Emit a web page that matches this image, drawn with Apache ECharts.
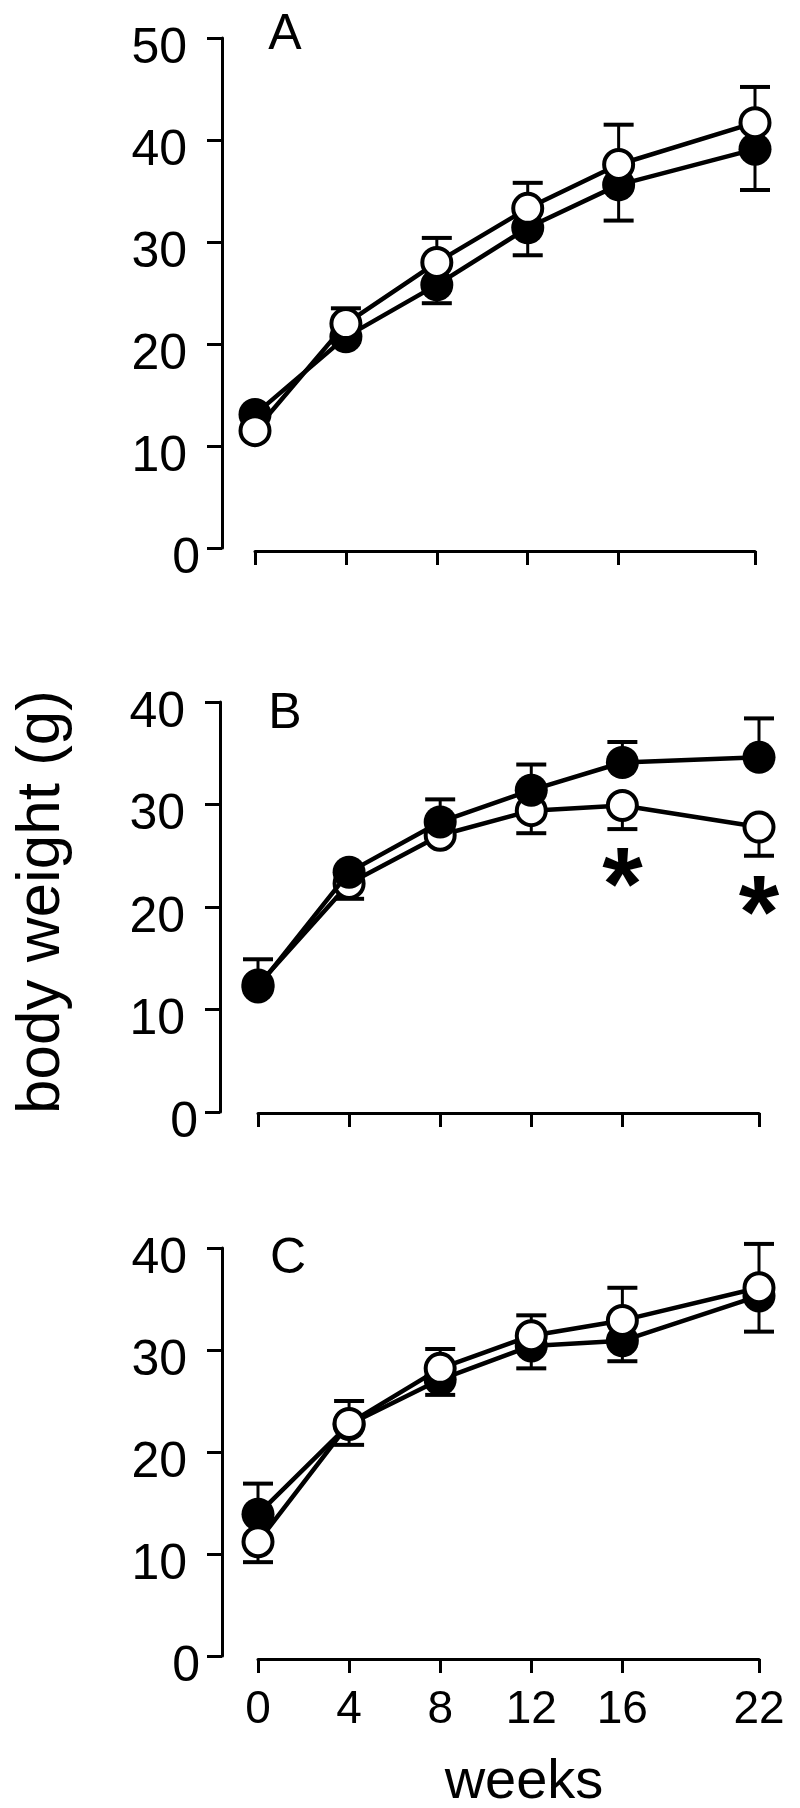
<!DOCTYPE html>
<html><head><meta charset="utf-8">
<script src="https://cdn.jsdelivr.net/npm/echarts@6/dist/echarts.min.js"></script>
<style>html,body{margin:0;padding:0;background:#fff}#c{width:800px;height:1808px}</style>
</head><body><div id="c"></div>
<script>
// ---------- data ----------
const weeks = [0, 4, 8, 12, 16, 22];
const weekTickLabels = ['0', '4', '8', '12', '16', '22'];
const panelLetters = ['A', 'B', 'C'];
const yMaxA = 50, yMaxB = 40, yMaxC = 40;
const yAxisTitle = 'body weight (g)';
const xAxisTitle = 'weeks';

// panel A
const filledA    = [13.1, 20.7, 25.8, 31.4, 35.6, 39.1];
const openA      = [11.5, 22.0, 28.0, 33.3, 37.6, 41.7];
const filledErrA = [0, 0, -1.8, -2.7, -3.5, -4.0];   // sign = direction of the bar
const openErrA   = [0, 1.5, 2.4, 2.5, 3.9, 3.5];

// panel B
const filledB    = [12.2, 23.4, 28.3, 31.4, 34.1, 34.6];
const openB      = [12.4, 22.3, 27.0, 29.4, 29.9, 27.8];
const filledErrB = [2.7, 0, 2.2, 2.5, 2.0, 3.8];
const openErrB   = [0, -1.5, 0, -2.2, -2.3, -2.8];
const asteriskWeeksB = [16, 22];
const asteriskYB     = [23.7, 20.9];

// panel C
const filledC    = [13.9, 22.7, 27.1, 30.4, 30.9, 35.3];
const openC      = [11.2, 22.8, 28.2, 31.4, 32.9, 36.1];
const filledErrC = [3.0, -2.0, -1.5, -2.2, -2.0, -3.5];
const openErrC   = [-2.0, 2.2, 1.9, 2.0, 3.2, 4.3];

// ---------- layout ----------
const FONT = '"Liberation Sans", Arial, Helvetica, sans-serif';
const grids = [
  { left: 255, right: 45, top: 38,   height: 510, yOff: 33, xOff: 3 },
  { left: 258, right: 41, top: 702,  height: 410, yOff: 38, xOff: 1 },
  { left: 258, right: 41, top: 1248, height: 408, yOff: 36, xOff: 3 }
];
const panels = [
  { yMax: yMaxA, filled: filledA, open: openA, fErr: filledErrA, oErr: openErrA, openOnTop: true },
  { yMax: yMaxB, filled: filledB, open: openB, fErr: filledErrB, oErr: openErrB, openOnTop: false },
  { yMax: yMaxC, filled: filledC, open: openC, fErr: filledErrC, oErr: openErrC, openOnTop: true }
];

function errRender(params, api) {
  const x = api.value(0), m = api.value(1), e = api.value(2);
  if (!e) return null;
  const p0 = api.coord([x, m]);
  const p1 = api.coord([x, m + e]);
  return {
    type: 'group',
    children: [
      { type: 'line', shape: { x1: p0[0], y1: p0[1], x2: p1[0], y2: p1[1] }, style: { stroke: '#000', lineWidth: 3 } },
      { type: 'line', shape: { x1: p1[0] - 15, y1: p1[1], x2: p1[0] + 15, y2: p1[1] }, style: { stroke: '#000', lineWidth: 4 } }
    ]
  };
}

function starRender(params, api) {
  const p = api.coord([api.value(0), api.value(1)]);
  return {
    type: 'text', x: p[0], y: p[1] + 22,
    style: { text: '*', fill: '#000', font: 'bold 104px ' + FONT, align: 'center', verticalAlign: 'middle' }
  };
}

const option = {
  backgroundColor: '#fff',
  animation: false,
  grid: grids.map(g => ({ left: g.left, right: g.right, top: g.top, height: g.height, containLabel: false, outerBoundsMode: 'none' })),
  xAxis: grids.map((g, i) => ({
    type: 'value', gridIndex: i, min: 0, max: 22,
    offset: g.xOff,
    splitLine: { show: false },
    axisLine: { show: true, onZero: false, lineStyle: { color: '#000', width: 3 } },
    axisTick: { show: true, customValues: weeks, length: 14, inside: false, lineStyle: { color: '#000', width: 3 } },
    axisLabel: {
      show: i === 2, customValues: weeks, margin: 28,
      formatter: v => weekTickLabels[weeks.indexOf(v)],
      color: '#000', fontSize: 46, fontFamily: FONT
    },
    name: i === 2 ? xAxisTitle : '',
    nameLocation: 'middle', nameGap: 96,
    nameTextStyle: { color: '#000', fontSize: 56, fontFamily: FONT, padding: [0, 0, 0, 31] }
  })),
  yAxis: grids.map((g, i) => ({
    type: 'value', gridIndex: i, min: 0, max: panels[i].yMax, interval: 10,
    offset: g.yOff,
    splitLine: { show: false },
    axisLine: { show: true, onZero: false, lineStyle: { color: '#000', width: 3 } },
    axisTick: { show: true, length: 15, inside: false, lineStyle: { color: '#000', width: 3 } },
    axisLabel: {
      show: true, margin: 22, color: '#000', fontSize: 50, fontFamily: FONT,
      formatter: v => (v === 0 ? '{z|0}' : '{v|' + v + '}'),
      rich: {
        v: { color: '#000', fontSize: 50, fontFamily: FONT, padding: [22, 13, 0, 0] },
        z: { color: '#000', fontSize: 50, fontFamily: FONT, padding: [22, 0, 0, 0] }
      }
    }
  })),
  graphic: panelLetters.map((t, i) => ({
    type: 'text', x: [285, 285, 288][i], y: [35, 714, 1259][i], z: 100,
    style: { text: t, fill: '#000', font: '50px ' + FONT, textAlign: 'center', textVerticalAlign: 'middle' }
  })).concat([{
    type: 'text', x: 42, y: 902, rotation: Math.PI / 2, z: 100,
    style: { text: yAxisTitle, fill: '#000', font: '62px ' + FONT, textAlign: 'center', textVerticalAlign: 'middle' }
  }]),
  series: []
};

panels.forEach((p, i) => {
  const pts = arr => weeks.map((w, k) => [w, arr[k]]);
  const errs = (vals, err) => weeks.map((w, k) => [w, vals[k], err[k]]);
  const filledZ = p.openOnTop ? 3 : 5;
  const openZ = p.openOnTop ? 5 : 3;
  option.series.push(
    { type: 'custom', xAxisIndex: i, yAxisIndex: i, renderItem: errRender, data: errs(p.filled, p.fErr), z: 1, clip: false },
    { type: 'custom', xAxisIndex: i, yAxisIndex: i, renderItem: errRender, data: errs(p.open, p.oErr), z: 1, clip: false },
    {
      type: 'line', xAxisIndex: i, yAxisIndex: i, data: pts(p.filled), z: filledZ, clip: false,
      symbol: 'circle', symbolSize: 33, showAllSymbol: true,
      lineStyle: { color: '#000', width: 4.5 },
      itemStyle: { color: '#000', borderColor: '#000', borderWidth: 0 }
    },
    {
      type: 'line', xAxisIndex: i, yAxisIndex: i, data: pts(p.open), z: openZ, clip: false,
      symbol: 'circle', symbolSize: 29, showAllSymbol: true,
      lineStyle: { color: '#000', width: 4.5 },
      itemStyle: { color: '#fff', borderColor: '#000', borderWidth: 4 }
    }
  );
});

option.series.push({
  type: 'custom', xAxisIndex: 1, yAxisIndex: 1, clip: false, z: 6,
  renderItem: starRender,
  data: asteriskWeeksB.map((w, k) => [w, asteriskYB[k]])
});

const chart = echarts.init(document.getElementById('c'), null, { renderer: 'canvas' });
chart.setOption(option);
</script>
</body></html>
